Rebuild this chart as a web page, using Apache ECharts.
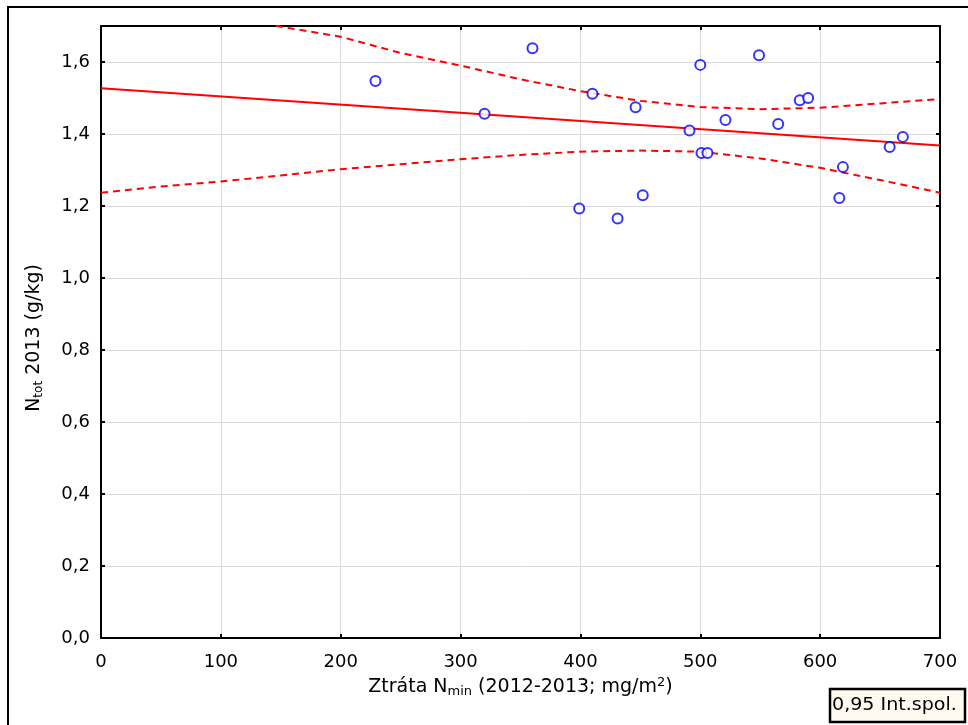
<!DOCTYPE html>
<html>
<head>
<meta charset="utf-8">
<script src="https://cdn.jsdelivr.net/npm/echarts@6/dist/echarts.min.js"></script>
<style>html,body{margin:0;padding:0;background:#fff}#c{width:968px;height:725px}</style>
</head>
<body>
<div id="c"></div>
<script>
var pointsX = [229, 320, 360, 410, 399, 431, 446, 452, 491, 500, 501, 506, 521, 549, 565, 583, 590, 616, 619, 658, 669];
var pointsY = [1.547, 1.456, 1.638, 1.512, 1.193, 1.165, 1.474, 1.230, 1.410, 1.592, 1.347, 1.347, 1.439, 1.619, 1.428, 1.494, 1.500, 1.222, 1.308, 1.364, 1.392];
var fitX = [0, 700];
var fitY = [1.527, 1.368];
var bandX = [0, 50, 100, 150, 200, 250, 300, 350, 400, 450, 500, 550, 600, 650, 700];
var upperY = [1.82, 1.78, 1.74, 1.698, 1.670, 1.625, 1.590, 1.552, 1.519, 1.492, 1.475, 1.469, 1.473, 1.485, 1.497];
var lowerY = [1.237, 1.254, 1.268, 1.285, 1.302, 1.316, 1.330, 1.342, 1.351, 1.354, 1.351, 1.332, 1.306, 1.272, 1.237];
var xTicks = [0, 100, 200, 300, 400, 500, 600, 700];
var yTicks = [0, 0.2, 0.4, 0.6, 0.8, 1.0, 1.2, 1.4, 1.6];
var legendText = '0,95 Int.spol.';

function zip(a, b) { return a.map(function (v, i) { return [v, b[i]]; }); }
var FONT = 'DejaVu Sans';
var chart = echarts.init(document.getElementById('c'));
var axisCommon = {
  axisLine: { show: true, onZero: false, lineStyle: { color: '#000', width: 2 } },
  axisTick: { show: true, inside: true, length: 4, lineStyle: { color: '#000', width: 2 } },
};
chart.setOption({
  animation: false,
  backgroundColor: '#fff',
  grid: { left: 101, right: 28, top: 26, bottom: 87, containLabel: false },
  xAxis: [
    Object.assign({
      type: 'value', min: 0, max: 700, interval: 100,
      axisLabel: { fontFamily: FONT, fontSize: 18, color: '#000', margin: 15,
        formatter: function (v) { return xTicks.indexOf(v) >= 0 ? String(v) : ''; } },
      splitLine: { show: true, lineStyle: { color: '#d9d9d9', width: 1 } },
      name: '{a|Ztráta N}{sub|min}{a| (2012-2013; mg/m}{sup|2}{a|)}',
      nameLocation: 'middle', nameGap: 32,
      nameTextStyle: {
        rich: {
          a: { fontFamily: FONT, fontSize: 19, color: '#000' },
          sub: { fontFamily: FONT, fontSize: 13, color: '#000', padding: [9, 0, 0, 0] },
          sup: { fontFamily: FONT, fontSize: 13, color: '#000', padding: [0, 0, 9, 0] }
        }
      }
    }, axisCommon),
    Object.assign({
      type: 'value', min: 0, max: 700, interval: 100, position: 'top',
      axisLabel: { show: false }, splitLine: { show: false }
    }, axisCommon)
  ],
  yAxis: [
    Object.assign({
      type: 'value', min: 0, max: 1.7, interval: 0.2,
      axisLabel: {
        fontFamily: FONT, fontSize: 18, color: '#000', margin: 11,
        formatter: function (v) { return yTicks.indexOf(Math.round(v * 10) / 10) >= 0 ? v.toFixed(1).replace('.', ',') : ''; }
      },
      splitLine: { show: true, lineStyle: { color: '#d9d9d9', width: 1 } },
      name: '{a|N}{sub|tot}{a| 2013 (g/kg)}',
      nameLocation: 'middle', nameGap: 56, nameRotate: 90,
      nameTextStyle: {
        padding: [0, 12, 0, 0],
        rich: {
          a: { fontFamily: FONT, fontSize: 19, color: '#000' },
          sub: { fontFamily: FONT, fontSize: 12, color: '#000', padding: [9, 0, 0, 0] }
        }
      }
    }, axisCommon),
    Object.assign({
      type: 'value', min: 0, max: 1.7, interval: 0.2, position: 'right',
      axisLabel: { show: false }, splitLine: { show: false }
    }, axisCommon)
  ],
  series: [
    { type: 'line', data: zip(fitX, fitY), symbol: 'none', lineStyle: { color: '#ff0000', width: 2 }, z: 3 },
    { type: 'line', data: zip(bandX, upperY), symbol: 'none', clip: true, lineStyle: { color: '#ff0000', width: 2, type: [7, 5] }, z: 3 },
    { type: 'line', data: zip(bandX, lowerY), symbol: 'none', clip: true, lineStyle: { color: '#ff0000', width: 2, type: [7, 5] }, z: 3 },
    { type: 'scatter', data: zip(pointsX, pointsY), symbol: 'emptyCircle', symbolSize: 10,
      itemStyle: { color: '#0000ff', borderColor: '#0000ff', borderWidth: 2 }, z: 4 }
  ],
  graphic: [
    { type: 'rect', shape: { x: 8, y: 7, width: 1000, height: 800 }, style: { fill: 'none', stroke: '#000', lineWidth: 2 }, silent: true },
    { type: 'rect', shape: { x: 830, y: 689, width: 135, height: 33 }, style: { fill: '#fffaf0', stroke: '#000', lineWidth: 2.5 } },
    { type: 'text', x: 832, y: 705.5, scaleX: 1.06, style: { text: legendText, font: '18px "DejaVu Sans"', fill: '#000', verticalAlign: 'middle' } }
  ]
});
</script>
</body>
</html>
